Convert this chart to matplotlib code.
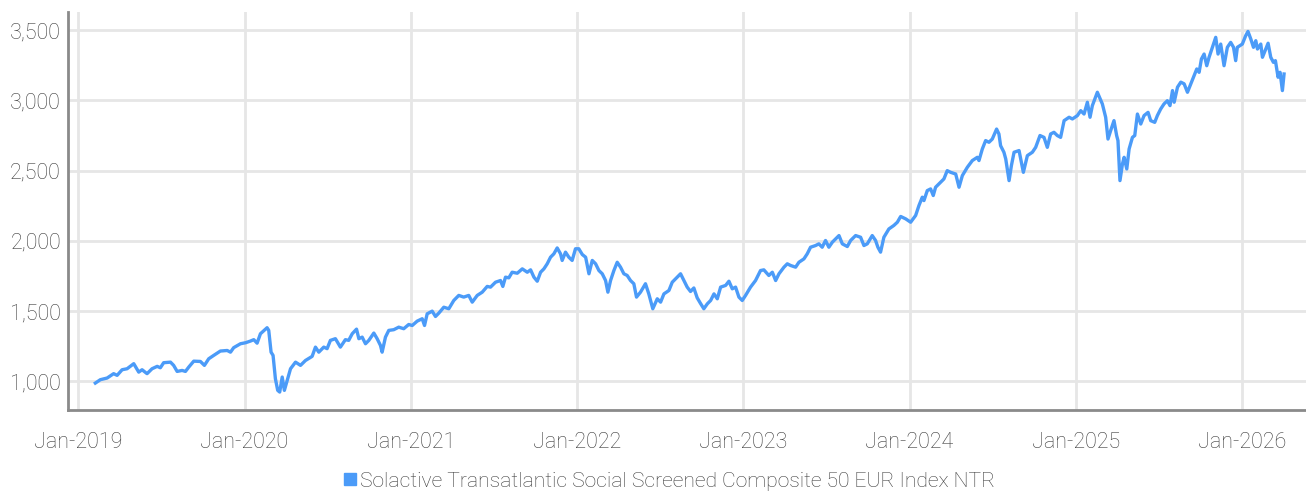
import matplotlib
matplotlib.use("Agg")
import matplotlib.pyplot as plt
from matplotlib.lines import Line2D
import pandas as pd

# decimal-year positions (years after Jan 1 2019) and index levels
years_offset = [
    0.102, 0.132, 0.173, 0.212, 0.233, 0.263, 0.293, 0.333, 0.363, 0.383,
    0.413, 0.443, 0.474, 0.493, 0.513, 0.554, 0.573, 0.594, 0.624, 0.644,
    0.664, 0.694, 0.734, 0.758, 0.784, 0.814, 0.854, 0.895, 0.915, 0.934,
    0.975, 1.005, 1.035, 1.055, 1.075, 1.095, 1.135, 1.145, 1.159, 1.171,
    1.185, 1.199, 1.211, 1.226, 1.239, 1.256, 1.276, 1.306, 1.336, 1.366,
    1.406, 1.426, 1.446, 1.476, 1.496, 1.516, 1.546, 1.576, 1.606, 1.626,
    1.647, 1.673, 1.687, 1.707, 1.727, 1.747, 1.777, 1.797, 1.817, 1.827,
    1.847, 1.867, 1.897, 1.927, 1.957, 1.987, 2.008, 2.038, 2.068, 2.082,
    2.098, 2.128, 2.148, 2.168, 2.198, 2.228, 2.258, 2.288, 2.318, 2.348,
    2.369, 2.399, 2.429, 2.459, 2.479, 2.509, 2.539, 2.553, 2.569, 2.589,
    2.609, 2.640, 2.670, 2.700, 2.720, 2.740, 2.760, 2.780, 2.800, 2.820,
    2.840, 2.860, 2.880, 2.900, 2.910, 2.930, 2.950, 2.970, 2.990, 3.010,
    3.031, 3.051, 3.071, 3.091, 3.111, 3.131, 3.151, 3.171, 3.185, 3.201,
    3.221, 3.241, 3.261, 3.281, 3.301, 3.321, 3.341, 3.357, 3.381, 3.411,
    3.431, 3.455, 3.482, 3.502, 3.522, 3.552, 3.572, 3.602, 3.622, 3.642,
    3.662, 3.682, 3.702, 3.722, 3.742, 3.762, 3.783, 3.803, 3.823, 3.843,
    3.863, 3.893, 3.913, 3.933, 3.953, 3.973, 3.993, 4.013, 4.043, 4.073,
    4.103, 4.123, 4.153, 4.174, 4.194, 4.214, 4.244, 4.264, 4.284, 4.314,
    4.334, 4.364, 4.384, 4.404, 4.434, 4.454, 4.474, 4.494, 4.514, 4.535,
    4.555, 4.575, 4.595, 4.625, 4.645, 4.675, 4.705, 4.725, 4.745, 4.775,
    4.795, 4.809, 4.825, 4.845, 4.875, 4.905, 4.926, 4.946, 4.976, 5.006,
    5.036, 5.056, 5.076, 5.086, 5.106, 5.126, 5.142, 5.156, 5.186, 5.206,
    5.226, 5.247, 5.277, 5.297, 5.317, 5.347, 5.377, 5.407, 5.417, 5.437,
    5.457, 5.477, 5.497, 5.523, 5.537, 5.547, 5.567, 5.578, 5.598, 5.612,
    5.628, 5.658, 5.684, 5.708, 5.738, 5.758, 5.784, 5.808, 5.828, 5.848,
    5.868, 5.888, 5.908, 5.929, 5.959, 5.979, 6.009, 6.029, 6.049, 6.069,
    6.085, 6.099, 6.129, 6.159, 6.179, 6.193, 6.209, 6.229, 6.245, 6.253,
    6.265, 6.280, 6.290, 6.306, 6.320, 6.340, 6.354, 6.370, 6.390, 6.410,
    6.434, 6.450, 6.474, 6.490, 6.510, 6.530, 6.550, 6.566, 6.581, 6.591,
    6.611, 6.631, 6.651, 6.671, 6.691, 6.711, 6.727, 6.741, 6.755, 6.771,
    6.787, 6.801, 6.821, 6.841, 6.855, 6.871, 6.891, 6.911, 6.931, 6.948,
    6.961, 6.971, 7.001, 7.021, 7.035, 7.052, 7.068, 7.082, 7.092, 7.112,
    7.122, 7.142, 7.156, 7.172, 7.188, 7.200, 7.216, 7.228, 7.242, 7.252,
]
index_values = [
    988, 1012, 1024, 1055, 1043, 1083, 1090, 1126, 1066, 1083,
    1055, 1090, 1107, 1097, 1133, 1137, 1114, 1071, 1078, 1071,
    1102, 1144, 1142, 1114, 1161, 1185, 1216, 1220, 1208, 1240,
    1268, 1275, 1287, 1297, 1272, 1339, 1382, 1363, 1208, 1185,
    1019, 936, 924, 1031, 936, 1007, 1090, 1137, 1114, 1149,
    1178, 1244, 1208, 1244, 1233, 1292, 1304, 1244, 1297, 1292,
    1339, 1372, 1304, 1315, 1268, 1292, 1344, 1304, 1256, 1208,
    1315, 1363, 1368, 1386, 1375, 1405, 1398, 1429, 1446, 1398,
    1481, 1500, 1462, 1486, 1528, 1517, 1576, 1612, 1600, 1612,
    1564, 1612, 1635, 1676, 1671, 1706, 1718, 1676, 1742, 1737,
    1777, 1770, 1801, 1777, 1794, 1742, 1713, 1777, 1801, 1837,
    1884, 1908, 1950, 1908, 1861, 1920, 1884, 1861, 1944, 1944,
    1903, 1884, 1766, 1861, 1837, 1789, 1766, 1718, 1635, 1718,
    1789, 1848, 1813, 1766, 1754, 1718, 1695, 1600, 1635, 1695,
    1623, 1517, 1588, 1564, 1623, 1647, 1706, 1742, 1766, 1718,
    1671, 1640, 1665, 1595, 1555, 1517, 1552, 1576, 1623, 1588,
    1671, 1683, 1713, 1659, 1671, 1600, 1576, 1612, 1671, 1718,
    1789, 1794, 1754, 1777, 1718, 1766, 1813, 1837, 1825, 1813,
    1848, 1872, 1908, 1955, 1967, 1979, 1955, 2003, 1955, 1991,
    2015, 2038, 1979, 1960, 2003, 2038, 2026, 1967, 1979, 2038,
    2003, 1955, 1920, 2026, 2085, 2110, 2133, 2174, 2157, 2133,
    2181, 2252, 2311, 2287, 2358, 2370, 2323, 2382, 2417, 2441,
    2500, 2488, 2476, 2382, 2465, 2524, 2572, 2595, 2572, 2654,
    2714, 2702, 2725, 2796, 2761, 2678, 2631, 2583, 2429, 2536,
    2631, 2643, 2488, 2607, 2631, 2666, 2750, 2737, 2666, 2761,
    2773, 2750, 2737, 2856, 2880, 2868, 2892, 2927, 2903, 2987,
    2880, 2963, 3058, 2975, 2880, 2725, 2785, 2856, 2750, 2714,
    2429, 2548, 2595, 2512, 2654, 2737, 2750, 2903, 2832, 2892,
    2915, 2856, 2844, 2892, 2939, 2975, 2998, 2963, 3070, 2987,
    3094, 3130, 3118, 3058, 3118, 3177, 3224, 3200, 3295, 3330,
    3247, 3307, 3378, 3449, 3330, 3401, 3247, 3378, 3413, 3378,
    3283, 3378, 3401, 3460, 3491, 3437, 3378, 3425, 3366, 3401,
    3307, 3366, 3407, 3307, 3271, 3283, 3165, 3200, 3070, 3188,
]
y_ticks = [1000, 1500, 2000, 2500, 3000, 3500]
x_tick_years = [2019, 2020, 2021, 2022, 2023, 2024, 2025, 2026]
series_name = "Solactive Transatlantic Social Screened Composite 50 EUR Index NTR"

LINE_COLOR = "#4b9bf8"
TEXT_COLOR = "#3c3c3c"
GRID_COLOR = "#e6e6e6"
SPINE_COLOR = "#8a8a8a"

plt.rcParams['font.family'] = ['Roboto', 'DejaVu Sans']
plt.rcParams['font.weight'] = 'light'

base = pd.Timestamp("2019-01-01")
dates = [base + pd.Timedelta(days=t * 365.25) for t in years_offset]

fig = plt.figure(figsize=(13.06, 4.96), dpi=100)
ax = fig.add_axes([0.052, 0.173, 0.948, 0.803])

ax.plot(dates, index_values, color=LINE_COLOR, lw=2.4, solid_joinstyle='round')

ax.set_ylim(795, 3630)
ax.set_xlim(pd.Timestamp("2018-12-09"), pd.Timestamp("2026-05-21"))
ax.set_yticks(y_ticks)
ax.set_yticklabels([f"{v:,}" for v in y_ticks])
ax.set_xticks([pd.Timestamp(f"{y}-01-01") for y in x_tick_years])
ax.set_xticklabels([f"Jan-{y}" for y in x_tick_years])

ax.grid(True, color=GRID_COLOR, lw=2)
ax.set_axisbelow(True)
ax.tick_params(axis='both', length=0, labelsize=15.5, colors=TEXT_COLOR)
ax.tick_params(axis='x', pad=16)
ax.tick_params(axis='y', pad=5)
for s in ['top', 'right']:
    ax.spines[s].set_visible(False)
for s in ['left', 'bottom']:
    ax.spines[s].set_color(SPINE_COLOR)
    ax.spines[s].set_linewidth(2)

handle = Line2D([], [], marker='s', color=LINE_COLOR, linestyle='None', markersize=9)
fig.legend([handle], [series_name], loc='center', bbox_to_anchor=(0.512, 0.03),
           frameon=False, fontsize=15.2, labelcolor=TEXT_COLOR, handletextpad=0.15,
           handlelength=0.7, borderaxespad=0)

fig.savefig("out.png", dpi=100)
